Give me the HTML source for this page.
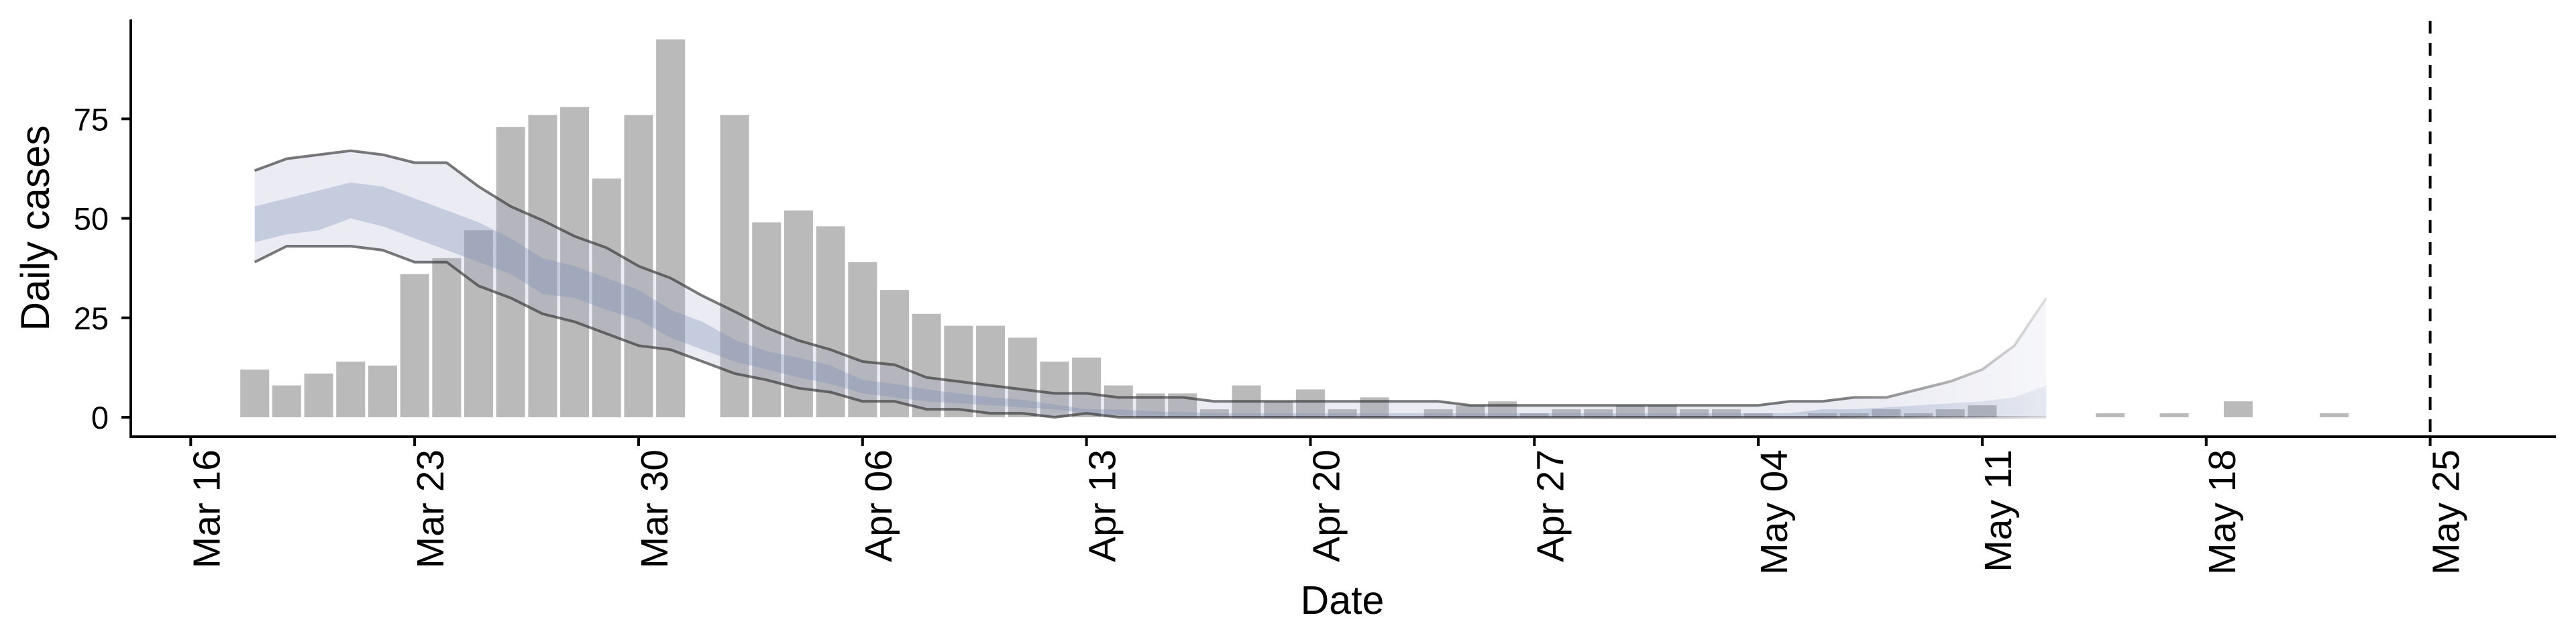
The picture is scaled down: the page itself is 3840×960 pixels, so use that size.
<!DOCTYPE html>
<html><head><meta charset="utf-8">
<style>
html,body{margin:0;padding:0;background:#fff;}
svg{display:block;font-family:"Liberation Sans",Arial,sans-serif;}
</style></head>
<body>
<svg id="chart" width="3840" height="960" viewBox="0 0 3840 960" xmlns="http://www.w3.org/2000/svg">
<defs>
<linearGradient id="fadeOuter" gradientUnits="userSpaceOnUse" x1="2760" y1="0" x2="3060" y2="0">
<stop offset="0" stop-color="rgb(160,165,200)" stop-opacity="0.22"/>
<stop offset="1" stop-color="rgb(160,165,200)" stop-opacity="0.09"/>
</linearGradient>
<linearGradient id="fadeInner" gradientUnits="userSpaceOnUse" x1="2760" y1="0" x2="3060" y2="0">
<stop offset="0" stop-color="rgb(120,140,180)" stop-opacity="0.33"/>
<stop offset="1" stop-color="rgb(120,140,180)" stop-opacity="0.12"/>
</linearGradient>
<linearGradient id="fadeLine" gradientUnits="userSpaceOnUse" x1="2720" y1="0" x2="3060" y2="0">
<stop offset="0" stop-color="rgb(50,50,50)" stop-opacity="0.65"/>
<stop offset="1" stop-color="rgb(50,50,50)" stop-opacity="0.12"/>
</linearGradient>
</defs>
<g id="bars"></g>
<g id="ribbons"></g>
<g id="axes"></g>
</svg>
<script>
// ---- data ----
const barDates = ["03-18","03-19","03-20","03-21","03-22","03-23","03-24","03-25","03-26","03-27","03-28","03-29","03-30","03-31","04-01","04-02","04-03","04-04","04-05","04-06","04-07","04-08","04-09","04-10","04-11","04-12","04-13","04-14","04-15","04-16","04-17","04-18","04-19","04-20","04-21","04-22","04-23","04-24","04-25","04-26","04-27","04-28","04-29","04-30","05-01","05-02","05-03","05-04","05-05","05-06","05-07","05-08","05-09","05-10","05-11","05-15","05-17","05-19","05-22"];
const barValues = [12,8,11,14,13,36,40,47,73,76,78,60,76,95,0,76,49,52,48,39,32,26,23,23,20,14,15,8,6,6,2,8,4,7,2,5,0,2,3,4,1,2,2,3,3,2,2,1,0,1,1,2,1,2,3,1,1,4,1];
const ribbonStart = "03-18";
const outerHigh = [62,65,66,67,66,64,64,58,53,49.5,45.5,42.6,38,35,30.5,26.6,22.5,19.3,17,14,13.2,10,9,8,7,6,6,5,5,5,4,4,4,4,4,4,4,4,3,3,3,3,3,3,3,3,3,3,4,4,5,5,7,9,12,18,30];
const outerLow = [39,43,43,43,42,39,39,33,30,26,24,21,18,17,14,11,9.4,7.3,6.3,4,4,2,2,1,1,0,1,0,0,0,0,0,0,0,0,0,0,0,0,0,0,0,0,0,0,0,0,0,0,0,0,0,0,0,0,0,0];
const innerHigh = [53,55,57,59,58,55,52,49,45,40,38,35,32,27,24,19.5,16.6,15,13,9.4,8.4,7,6,5,4.4,3.2,2,2,1.5,1.3,1,1,1,1,1,1,1,1,1,1,1,1,1,1,1,1,1,1,1,2,2,2.5,3,3.5,4,5,8];
const innerLow = [44,46,47,50,48,45,42,39,36,31,30,27,24.5,20,17,14,12,10,8.4,6,5,4,3.5,3,2.5,2,1,0.5,0,0,0,0,0,0,0,0,0,0,0,0,0,0,0,0,0,0,0,0,0,0,0,0,0,0,0,0,0];
const xTickDates = ["03-16","03-23","03-30","04-06","04-13","04-20","04-27","05-04","05-11","05-18","05-25"];
const xTickLabels = ["Mar 16","Mar 23","Mar 30","Apr 06","Apr 13","Apr 20","Apr 27","May 04","May 11","May 18","May 25"];
const yTicks = [0,25,50,75];
const markerDate = "05-25";

// ---- scales ----
const NS = "http://www.w3.org/2000/svg";
function dayIndex(md){const d=new Date("2020-"+md+"T00:00:00Z");return Math.round((d-new Date("2020-03-16T00:00:00Z"))/86400000);}
function xs(day){return 284.3 + day*47.69;}
function ys(v){return 622 - v*5.93;}
function mk(tag, attrs, parent){const e=document.createElementNS(NS,tag);for(const k in attrs)e.setAttribute(k,attrs[k]);parent.appendChild(e);return e;}

const barsG=document.getElementById('bars');
barValues.forEach((v,i)=>{
  if(v<=0) return;
  const d=dayIndex(barDates[i]);
  const r=mk('rect',{x:xs(d)-21.5,y:ys(v),width:43,height:ys(0)-ys(v),fill:'#bababa'},barsG);
  
  
});

const rG=document.getElementById('ribbons');
const s0=dayIndex(ribbonStart);
function band(hi,lo){
  let p='';
  hi.forEach((v,i)=>{p+=(i?'L':'M')+xs(s0+i).toFixed(1)+','+ys(v).toFixed(1);});
  for(let i=lo.length-1;i>=0;i--){p+='L'+xs(s0+i).toFixed(1)+','+ys(lo[i]).toFixed(1);}
  return p+'Z';
}
function line(arr){let p='';arr.forEach((v,i)=>{p+=(i?'L':'M')+xs(s0+i).toFixed(1)+','+ys(v).toFixed(1);});return p;}
const ob=mk('path',{d:band(outerHigh,outerLow),fill:'url(#fadeOuter)'},rG);


const ib=mk('path',{d:band(innerHigh,innerLow),fill:'url(#fadeInner)'},rG);


const ul=mk('path',{d:line(outerHigh),fill:'none',stroke:'url(#fadeLine)','stroke-width':4,'stroke-linejoin':'round'},rG);


const ll=mk('path',{d:line(outerLow),fill:'none',stroke:'url(#fadeLine)','stroke-width':4,'stroke-linejoin':'round'},rG);



const aG=document.getElementById('axes');
const yl=mk('line',{x1:195,y1:29,x2:195,y2:653,stroke:'#000','stroke-width':4},aG);


const xl=mk('line',{x1:193,y1:651,x2:3810,y2:651,stroke:'#000','stroke-width':4},aG);


yTicks.forEach(t=>{
  const tk=mk('line',{x1:181,y1:ys(t),x2:195,y2:ys(t),stroke:'#000','stroke-width':4},aG);
  
  
  const tx=mk('text',{x:162,y:ys(t)+17,'text-anchor':'end','font-size':47,fill:'#000'},aG);
  tx.textContent=t;
  
  
});
xTickDates.forEach((md,i)=>{
  const x=xs(dayIndex(md));
  const tk=mk('line',{x1:x,y1:651,x2:x,y2:665,stroke:'#000','stroke-width':4},aG);
  
  
  const tx=mk('text',{x:0,y:0,'text-anchor':'end','font-size':57,fill:'#000',transform:`translate(${(x+43).toFixed(1)},670) rotate(-90)`},aG);
  tx.textContent=xTickLabels[i];
  
  
});
const mx=xs(dayIndex(markerDate));
const dl=mk('line',{x1:mx,y1:31,x2:mx,y2:651,stroke:'#000','stroke-width':4,'stroke-dasharray':'19 14'},aG);


const yt=mk('text',{x:0,y:0,'text-anchor':'middle','font-size':60,fill:'#000',transform:'translate(73,340) rotate(-90)'},aG);
yt.textContent='Daily cases';


const xt=mk('text',{x:2001,y:915,'text-anchor':'middle','font-size':59,fill:'#000'},aG);
xt.textContent='Date';


</script>
</body></html>
